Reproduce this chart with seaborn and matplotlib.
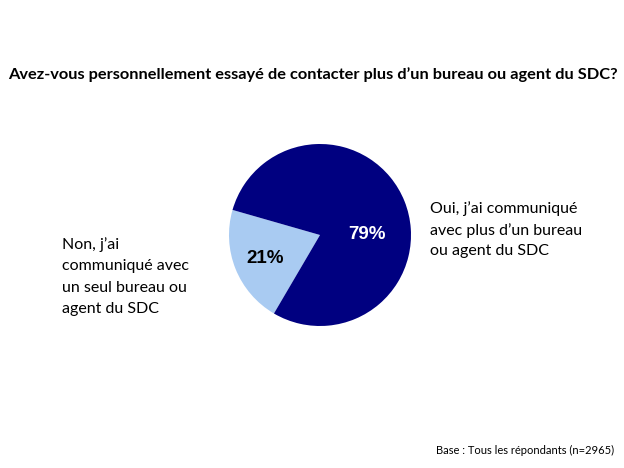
import matplotlib
matplotlib.use("Agg")
import matplotlib.pyplot as plt
import seaborn as sns

sns.set_theme(style="white")
plt.rcParams['font.family'] = ['Lato', 'DejaVu Sans']

categories = ["Non, j'ai communiqué avec un seul bureau ou agent du SDC",
              "Oui, j'ai communiqué avec plus d'un bureau ou agent du SDC"]
values = [21, 79]
pct_labels = ["21%", "79%"]
colors = ["#A9CBF2", "#000080"]

fig = plt.figure(figsize=(6.24, 4.68), dpi=100)
fig.patch.set_facecolor("white")

fig.text(0.013, 0.84, "Avez-vous personnellement essayé de contacter plus d\u2019un bureau ou agent du SDC?",
         fontsize=11.75, fontweight="bold", color="black", ha="left", va="center")

# pie axes: center (320,235), radius ~90 px
r = 91
cx, cy = 320, 235
ax = fig.add_axes([(cx - r) / 624, 1 - (cy + r) / 468, 2 * r / 624, 2 * r / 468])
wedges, texts = ax.pie(values, colors=colors, startangle=164, counterclock=True,
                       radius=1.0, wedgeprops=dict(linewidth=0))
ax.set_xlim(-1, 1)
ax.set_ylim(-1, 1)
ax.set_aspect("auto")
ax.axis("off")

ax.text(-0.6, -0.26, pct_labels[0], fontsize=13.5, fontweight="bold", color="black",
        ha="center", va="center", family=["Liberation Sans", "DejaVu Sans"])
ax.text(0.52, 0.01, pct_labels[1], fontsize=13.5, fontweight="bold", color="white",
        ha="center", va="center", family=["Liberation Sans", "DejaVu Sans"])

fig.text(62 / 624, 1 - 237 / 468, "Non, j\u2019ai\ncommuniqué avec\nun seul bureau ou\nagent du SDC",
         fontsize=11.5, color="black", ha="left", va="top", linespacing=1.68)
fig.text(430 / 624, 1 - 201 / 468, "Oui, j\u2019ai communiqué\navec plus d\u2019un bureau\nou agent du SDC",
         fontsize=11.5, color="black", ha="left", va="top", linespacing=1.58)

fig.text(614 / 624, 1 - 450 / 468, "Base : Tous les répondants (n=2965)",
         fontsize=8, color="black", ha="right", va="center")

fig.savefig("out.png", dpi=100, facecolor="white")
